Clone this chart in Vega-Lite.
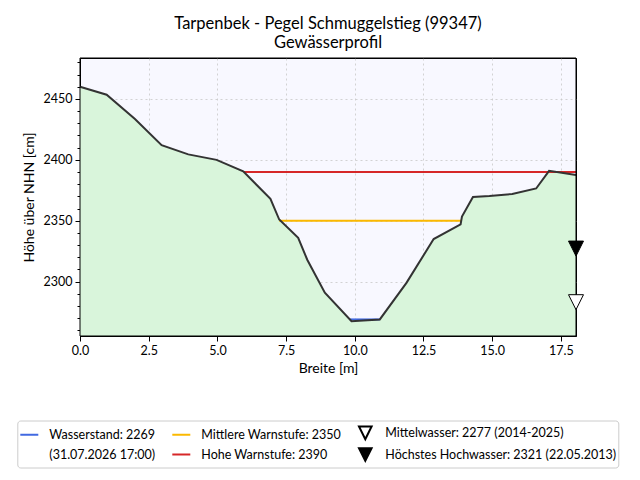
{
  "$schema": "https://vega.github.io/schema/vega-lite/v6.json",
  "width": 496,
  "height": 278,
  "autosize": {"type": "none"},
  "padding": {"left": 80, "top": 58, "right": 64, "bottom": 144},
  "background": "white",
  "title": {
    "text": ["Tarpenbek - Pegel Schmuggelstieg (99347)", "Gewässerprofil"],
    "font": "Lato",
    "fontSize": 16.5,
    "fontWeight": "normal",
    "color": "black",
    "lineHeight": 19,
    "offset": 6,
    "anchor": "middle"
  },
  "config": {
    "font": "Lato",
    "view": {"fill": "#f8f8ff", "stroke": "#000000", "strokeWidth": 1, "strokeOpacity": 1},
    "axis": {
      "domainColor": "black",
      "tickColor": "black",
      "labelColor": "black",
      "labelFontSize": 12.5,
      "labelFlush": false,
      "titleColor": "black",
      "titleFontSize": 14,
      "titleFontWeight": "normal",
      "gridColor": "#c8c8c8",
      "gridDash": [2, 3],
      "gridWidth": 0.8,
      "tickSize": 5,
      "labelPadding": 3,
      "zindex": 1
    }
  },
  "datasets": {
    "profil": [
      {"breite": 0.0, "hoehe": 2460},
      {"breite": 0.97, "hoehe": 2453.5},
      {"breite": 2.0, "hoehe": 2433.5},
      {"breite": 2.97, "hoehe": 2412},
      {"breite": 3.94, "hoehe": 2404.5},
      {"breite": 4.97, "hoehe": 2400},
      {"breite": 5.94, "hoehe": 2390.5},
      {"breite": 6.93, "hoehe": 2368},
      {"breite": 7.25, "hoehe": 2351},
      {"breite": 7.94, "hoehe": 2336},
      {"breite": 8.27, "hoehe": 2318},
      {"breite": 8.91, "hoehe": 2291},
      {"breite": 9.88, "hoehe": 2267.5},
      {"breite": 10.91, "hoehe": 2269},
      {"breite": 11.88, "hoehe": 2299},
      {"breite": 12.87, "hoehe": 2335},
      {"breite": 13.85, "hoehe": 2347},
      {"breite": 13.9, "hoehe": 2353.5},
      {"breite": 14.3, "hoehe": 2369.5},
      {"breite": 14.9, "hoehe": 2370.3},
      {"breite": 15.73, "hoehe": 2372},
      {"breite": 16.6, "hoehe": 2376.5},
      {"breite": 17.07, "hoehe": 2391},
      {"breite": 18.05, "hoehe": 2387.5}
    ],
    "stufen": [
      {"label": "Wasserstand: 2269", "von": 9.82, "bis": 10.91, "hoehe": 2269},
      {"label": "Mittlere Warnstufe: 2350", "von": 7.25, "bis": 13.88, "hoehe": 2350},
      {"label": "Hohe Warnstufe: 2390", "von": 5.96, "bis": 18.05, "hoehe": 2390}
    ],
    "marken": [
      {"label": "Mittelwasser: 2277 (2014-2025)", "breite": 18.05, "hoehe": 2277},
      {"label": "Höchstes Hochwasser: 2321 (22.05.2013)", "breite": 18.05, "hoehe": 2321}
    ],
    "rahmen": [
      {"x0": 0, "x1": 18.05, "y0": 2255.4, "y1": 2483.6}
    ]
  },
  "encoding": {
    "x": {
      "field": "breite", "type": "quantitative",
      "scale": {"domain": [0, 18.05], "nice": false, "zero": false},
      "axis": {"title": "Breite [m]", "values": [0, 2.5, 5, 7.5, 10, 12.5, 15, 17.5], "format": ".1f", "titlePadding": 5}
    },
    "y": {
      "field": "hoehe", "type": "quantitative",
      "scale": {"domain": [2255.4, 2483.6], "nice": false, "zero": false},
      "axis": {
        "title": "Höhe über NHN [cm]",
        "values": [2260, 2270, 2280, 2290, 2300, 2310, 2320, 2330, 2340, 2350, 2360, 2370, 2380, 2390, 2400, 2410, 2420, 2430, 2440, 2450, 2460, 2470, 2480],
        "labelExpr": "datum.value % 50 === 0 ? datum.label : ''",
        "format": "d",
        "tickSize": {"condition": {"test": "datum.value % 50 === 0", "value": 5}, "value": 3},
        "gridOpacity": {"condition": {"test": "datum.value % 50 === 0", "value": 1}, "value": 0},
        "titlePadding": 7
      }
    }
  },
  "layer": [
    {
      "data": {"name": "profil"},
      "mark": {"type": "area", "color": "#d9f5db", "clip": true}
    },
    {
      "data": {"name": "stufen"},
      "mark": {"type": "rule", "strokeWidth": 2},
      "encoding": {
        "x": {"field": "von", "type": "quantitative", "scale": {"domain": [0, 18.05], "nice": false, "zero": false}, "title": "Breite [m]"},
        "x2": {"field": "bis"},
        "stroke": {
          "field": "label", "type": "nominal",
          "scale": {
            "domain": ["Wasserstand: 2269", "(31.07.2026 17:00)", "Mittlere Warnstufe: 2350", "Hohe Warnstufe: 2390", "Mittelwasser: 2277 (2014-2025)", "Höchstes Hochwasser: 2321 (22.05.2013)"],
            "range": ["#4169e1", "transparent", "#fbb900", "#d62728", "black", "black"]
          }
        }
      }
    },
    {
      "data": {"name": "profil"},
      "mark": {"type": "line", "color": "#333333", "strokeWidth": 2}
    },
    {
      "data": {"name": "rahmen"},
      "mark": {"type": "rect", "fill": null, "stroke": "black", "strokeWidth": 1},
      "encoding": {
        "x": {"field": "x0", "type": "quantitative", "scale": {"domain": [0, 18.05], "nice": false, "zero": false}, "title": "Breite [m]"},
        "x2": {"field": "x1"},
        "y": {"field": "y0", "type": "quantitative", "scale": {"domain": [2255.4, 2483.6], "nice": false, "zero": false}, "title": "Höhe über NHN [cm]"},
        "y2": {"field": "y1"}
      }
    },
    {
      "data": {"name": "marken"},
      "mark": {"type": "point", "size": 459, "strokeWidth": 1, "opacity": 1, "yOffset": -7.5},
      "encoding": {
        "stroke": {
          "field": "label", "type": "nominal",
          "scale": {
            "domain": ["Wasserstand: 2269", "(31.07.2026 17:00)", "Mittlere Warnstufe: 2350", "Hohe Warnstufe: 2390", "Mittelwasser: 2277 (2014-2025)", "Höchstes Hochwasser: 2321 (22.05.2013)"],
            "range": ["#4169e1", "transparent", "#fbb900", "#d62728", "black", "black"]
          },
          "legend": {
            "title": null,
            "orient": "none",
            "legendX": -62.7,
            "legendY": 362.5,
            "columns": 3,
            "gridAlign": "each",
            "columnPadding": 13,
            "rowPadding": 0,
            "padding": 2,
            "strokeColor": "#cccccc",
            "fillColor": "white",
            "cornerRadius": 3,
            "symbolSize": 324,
            "symbolStrokeWidth": 2,
            "symbolOpacity": 1,
            "labelFont": "Lato",
            "labelFontSize": 12.5,
            "labelColor": "black",
            "labelOffset": 10,
            "labelLimit": 400,
            "encode": {"symbols": {"update": {"strokeWidth": {"signal": "indexof(datum.value, 'wasser:') >= 0 ? 1 : 2"}}}}
          }
        },
        "fill": {
          "field": "label", "type": "nominal",
          "scale": {
            "domain": ["Wasserstand: 2269", "(31.07.2026 17:00)", "Mittlere Warnstufe: 2350", "Hohe Warnstufe: 2390", "Mittelwasser: 2277 (2014-2025)", "Höchstes Hochwasser: 2321 (22.05.2013)"],
            "range": ["transparent", "transparent", "transparent", "transparent", "white", "black"]
          }
        },
        "shape": {
          "field": "label", "type": "nominal",
          "scale": {
            "domain": ["Wasserstand: 2269", "(31.07.2026 17:00)", "Mittlere Warnstufe: 2350", "Hohe Warnstufe: 2390", "Mittelwasser: 2277 (2014-2025)", "Höchstes Hochwasser: 2321 (22.05.2013)"],
            "range": ["stroke", "stroke", "stroke", "stroke", "M -0.7 -0.7 L 0.7 -0.7 L 0 0.7 Z", "M -0.7 -0.7 L 0.7 -0.7 L 0 0.7 Z"]
          }
        }
      }
    }
  ]
}
